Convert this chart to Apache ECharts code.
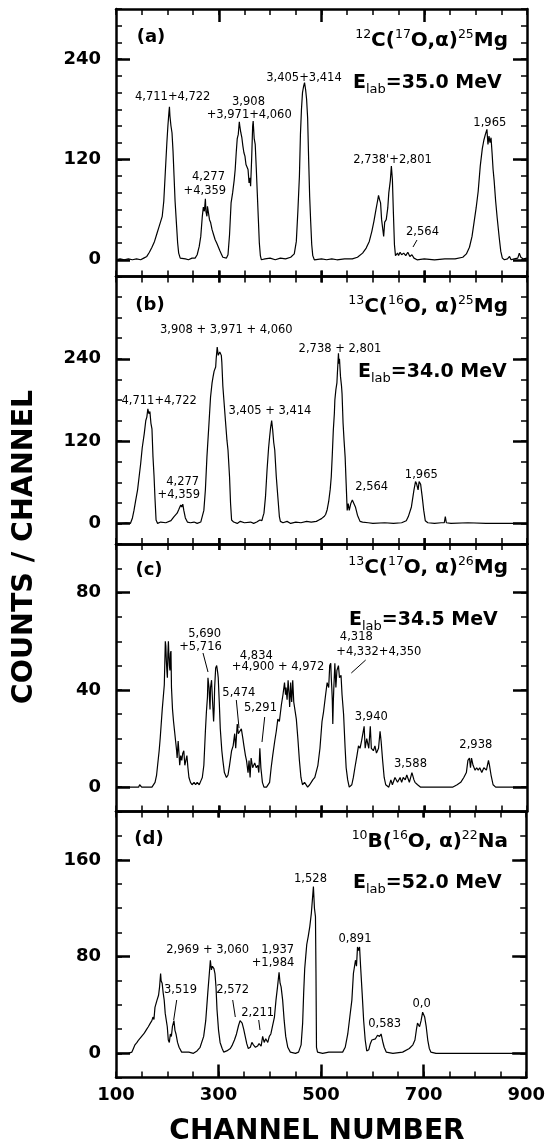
<!DOCTYPE html>
<html><head><meta charset="utf-8">
<script src="https://cdn.jsdelivr.net/npm/echarts@6/dist/echarts.min.js"></script>
<style>html,body{margin:0;padding:0;background:#fff;}#c{width:548px;height:1146px;}</style>
</head><body><div id="c"></div>
<script>
// ---- data: [channel, counts] ----
const specA = [[100,0],[108,1],[116,0],[124,1],[132,0],[140,1],[148,0],[154,2],[160,4],[165,9],[170,15],[175,22],[180,32],[184,40],[187,46],[190,52],[193,70],[196,105],[199,140],[201,160],[203,176],[204,183],[205,172],[207,160],[209,152],[211,130],[213,100],[215,70],[218,40],[220,20],[222,8],[225,2],[228,0],[235,1],[241,0],[248,2],[254,2],[258,6],[262,16],[265,28],[268,52],[270,63],[272,58],[274,73],[275,58],[277,52],[278,64],[280,62],[282,48],[284,45],[287,36],[290,30],[293,24],[296,20],[299,18],[302,11],[305,7],[308,3],[311,1],[315,2],[318,6],[321,30],[324,68],[327,80],[330,95],[332,108],[334,128],[336,145],[338,150],[340,165],[341,160],[343,152],[345,146],[347,136],[349,128],[351,124],[353,114],[355,112],[357,108],[359,92],[361,98],[362,88],[364,120],[366,160],[367,166],[369,145],[371,138],[373,110],[375,80],[377,50],[379,20],[381,5],[383,0],[390,1],[400,2],[410,0],[420,2],[430,1],[440,3],[447,7],[451,22],[454,58],[457,100],[459,150],[461,180],[463,200],[465,207],[467,212],[469,204],[471,192],[473,170],[475,120],[477,75],[479,45],[481,18],[483,5],[486,0],[500,1],[510,0],[520,1],[530,0],[545,1],[560,1],[570,3],[580,8],[587,14],[593,22],[598,34],[602,46],[606,60],[609,70],[611,77],[613,72],[615,68],[617,48],[619,38],[621,28],[623,45],[626,48],[629,62],[631,80],[634,95],[636,112],[638,96],[640,55],[642,18],[644,5],[646,3],[648,8],[650,5],[653,9],[656,6],[660,8],[664,5],[668,9],[672,4],[676,6],[680,2],[686,0],[700,1],[720,0],[740,1],[760,1],[775,3],[782,7],[788,15],[793,28],[797,45],[801,62],[805,82],[809,112],[813,133],[816,143],[819,150],[822,156],[824,138],[826,148],[828,140],[830,146],[832,128],[834,108],[836,95],[839,70],[842,50],[846,26],[849,10],[852,2],[856,0],[862,1],[866,4],[869,0],[875,1],[882,2],[885,8],[888,3],[893,1],[900,2]];

const specB = [[100,0],[110,0],[120,1],[128,0],[132,8],[135,19],[138,32],[142,49],[145,68],[148,87],[151,110],[155,131],[158,150],[160,155],[162,167],[164,160],[166,163],[168,146],[170,138],[172,97],[174,70],[176,35],[178,5],[181,0],[187,2],[197,1],[207,4],[213,10],[219,15],[222,20],[224,22],[226,27],[228,24],[230,28],[232,19],[235,8],[239,2],[245,1],[252,2],[258,0],[265,2],[271,19],[274,49],[277,97],[281,146],[284,184],[287,205],[289,214],[291,222],[294,228],[295,240],[297,257],[299,245],[300,243],[302,250],[303,252],[305,245],[306,235],[308,200],[310,180],[313,150],[316,121],[318,107],[321,68],[323,29],[325,5],[329,2],[336,0],[342,3],[350,1],[362,2],[368,0],[374,2],[380,5],[384,4],[386,10],[388,15],[391,39],[394,78],[397,110],[399,126],[401,140],[403,150],[405,136],[407,118],[409,107],[412,68],[415,39],[418,10],[420,3],[425,1],[433,3],[440,0],[450,2],[460,1],[471,3],[480,2],[490,3],[495,5],[500,7],[505,10],[508,13],[511,20],[514,32],[517,50],[519,68],[521,100],[523,136],[525,160],[526,180],[528,195],[530,205],[531,220],[533,248],[534,233],[535,240],[537,214],[539,200],[540,189],[542,146],[544,120],[546,97],[548,58],[550,19],[552,29],[554,19],[557,29],[560,34],[563,32],[566,24],[570,12],[575,3],[580,2],[591,1],[600,0],[623,1],[640,0],[656,1],[665,4],[669,10],[675,24],[680,49],[683,61],[685,58],[686,60],[688,49],[690,61],[693,57],[696,39],[699,19],[702,4],[707,1],[720,0],[733,1],[739,1],[741,10],[743,1],[752,0],[785,1],[820,0],[855,0],[900,0]];

const specC = [[100,0],[110,0],[120,0],[130,0],[140,0],[144,0],[146,1],[148,1],[150,0],[157,0],[165,0],[170,0],[176,2],[179,5],[181,9],[184,15],[186,20],[188,26],[190,32],[192,37],[194,42],[196,60],[197,58],[198,52],[199,48],[200,45],[201,55],[202,60],[203,54],[204,50],[205,48],[206,55],[207,56],[208,41],[210,32],[212,27],[214,23],[216,19],[218,15],[219,12],[221,19],[222,16],[224,9],[226,13],[228,11],[230,14],[232,15],[234,9],[236,11],[238,13],[240,8],[242,4],[245,2],[248,1],[252,2],[255,1],[258,2],[262,1],[266,3],[268,4],[271,9],[274,23],[276,31],[278,37],[279,45],[281,41],[283,32],[284,41],[286,44],[288,35],[290,27],[291,32],[292,41],[294,49],[296,50],[298,47],[299,45],[301,35],[303,24],[306,15],[308,11],[311,6],[315,4],[318,5],[321,9],[325,15],[328,17],[331,22],[333,16],[336,26],[338,22],[341,23],[344,24],[347,20],[349,17],[352,13],[354,11],[357,6],[359,11],[361,4],[363,12],[366,8],[370,10],[373,8],[376,9],[378,6],[380,16],[382,8],[385,2],[388,0],[393,0],[399,2],[402,8],[405,13],[409,19],[412,23],[415,28],[418,27],[422,34],[425,38],[428,43],[430,38],[431,41],[433,36],[435,44],[437,38],[438,33],[440,43],[441,38],[442,35],[444,44],[446,35],[448,35],[451,28],[454,20],[457,11],[460,4],[463,1],[467,2],[470,2],[473,0],[477,1],[480,2],[483,3],[487,4],[490,4],[493,9],[497,16],[501,27],[504,31],[508,38],[511,43],[514,41],[516,50],[518,51],[519,45],[520,41],[521,36],[522,26],[523,35],[524,41],[526,51],[528,41],[530,48],[533,50],[535,45],[538,46],[540,38],[543,30],[546,16],[548,8],[551,3],[554,0],[559,1],[562,4],[565,8],[569,13],[572,17],[575,16],[578,19],[581,19],[583,25],[585,16],[588,20],[592,16],[595,25],[597,16],[601,15],[604,17],[607,14],[611,16],[614,23],[616,19],[619,11],[622,4],[625,1],[631,0],[635,3],[638,1],[643,4],[648,2],[653,4],[656,2],[659,4],[663,3],[666,5],[671,2],[676,6],[680,3],[682,2],[687,1],[693,0],[710,0],[735,0],[755,0],[764,1],[771,2],[777,4],[782,6],[785,11],[788,12],[790,8],[792,12],[795,9],[799,7],[802,8],[805,7],[808,8],[812,6],[816,8],[821,7],[825,11],[827,9],[830,5],[834,1],[839,0],[852,0],[870,0],[885,0],[900,0]];

const specD = [[100,0],[110,0],[120,0],[124,0],[131,1],[134,4],[137,7],[141,9],[144,11],[147,12],[150,14],[154,16],[157,18],[160,20],[163,22],[167,25],[170,27],[172,30],[174,28],[176,38],[180,44],[183,48],[185,55],[187,66],[188,60],[190,58],[192,50],[194,44],[196,33],[198,32],[200,22],[202,11],[204,9],[206,16],[208,14],[210,22],[213,27],[215,19],[217,16],[220,9],[223,5],[228,1],[235,1],[242,1],[251,0],[258,2],[264,5],[271,14],[275,27],[279,50],[282,66],[284,77],[286,69],[288,72],[291,70],[293,66],[295,55],[297,36],[300,19],[303,9],[307,4],[310,1],[316,2],[323,4],[327,7],[331,11],[335,16],[339,23],[342,27],[346,25],[349,20],[352,14],[355,8],[358,4],[362,5],[365,9],[368,7],[372,5],[376,6],[379,8],[383,6],[386,14],[389,9],[392,12],[396,9],[399,14],[402,16],[405,22],[409,30],[412,44],[415,55],[418,67],[420,58],[422,55],[425,44],[428,27],[431,14],[435,5],[440,1],[450,0],[456,1],[461,7],[464,25],[466,50],[468,70],[470,80],[472,90],[475,97],[478,105],[481,116],[483,127],[485,138],[487,120],[489,113],[490,66],[491,5],[493,1],[503,0],[515,1],[529,1],[542,1],[547,5],[552,16],[556,30],[560,44],[563,66],[567,77],[569,72],[571,88],[573,85],[575,88],[577,72],[580,50],[583,27],[586,11],[589,2],[593,3],[596,8],[599,11],[602,10],[606,12],[610,15],[614,14],[617,16],[620,10],[623,5],[627,1],[640,0],[659,1],[672,4],[679,7],[683,11],[686,20],[688,25],[692,22],[695,27],[698,34],[700,33],[702,30],[705,22],[708,11],[711,4],[714,1],[724,0],[760,0],[790,0],[830,0],[860,0],[900,0]];

const spectra = [specA, specB, specC, specD];
const yMins = [-20, -30, -10, -20];
const yMaxs = [300, 360, 100, 200];
const ySteps = [20, 30, 10, 20];
const yLabelVals = [[0,120,240],[0,120,240],[0,40,80],[0,80,160]];
const xLabelVals = [100, 300, 500, 700, 900];
const xMajorTicks = [300, 500, 700];
const panelTags = ['(a)', '(b)', '(c)', '(d)'];

// ---- layout ----
const FONT = 'DejaVu Sans';
const tops = [9, 276.5, 544, 811.5];
const heights = [267.5, 267.5, 267.5, 266];
const LEFT = 116, WIDTH = 411;

const grids = [], xAxes = [], yAxes = [], series = [];
const lineW = 2.5;
for (let i = 0; i < 4; i++) {
  grids.push({left: LEFT, top: tops[i], width: WIDTH, height: heights[i], containLabel: false});
  const base = {gridIndex: i, type: 'value', min: 100, max: 900, splitLine: {show: false}};
  xAxes.push(Object.assign({}, base, {position: 'bottom', interval: 50,
    axisLine: {show: true, onZero: false, lineStyle: {color: '#000', width: lineW}},
    axisTick: {show: true, inside: true, length: 6, lineStyle: {color: '#000', width: 1.5}},
    axisLabel: {show: false}}));
  xAxes.push(Object.assign({}, base, {position: 'bottom', interval: 50,
    axisLine: {show: false, onZero: false},
    axisTick: {show: true, inside: true, length: i === 3 ? 13 : 6, customValues: xMajorTicks, lineStyle: {color: '#000', width: 2.5}},
    axisLabel: {show: i === 3, customValues: xLabelVals, margin: 9, color: '#000', fontFamily: FONT, fontWeight: 'bold', fontSize: 18}}));
  xAxes.push(Object.assign({}, base, {position: 'top', interval: 50,
    axisLine: {show: true, onZero: false, lineStyle: {color: '#000', width: lineW}},
    axisTick: {show: true, inside: true, length: 6, lineStyle: {color: '#000', width: 1.5}},
    axisLabel: {show: false}}));
  xAxes.push(Object.assign({}, base, {position: 'top', interval: 50,
    axisLine: {show: false, onZero: false},
    axisTick: {show: true, inside: true, length: i === 0 ? 13 : 6, customValues: xMajorTicks, lineStyle: {color: '#000', width: 2.5}},
    axisLabel: {show: false}}));

  const yb = {gridIndex: i, type: 'value', min: yMins[i], max: yMaxs[i], interval: ySteps[i], splitLine: {show: false}};
  ['left', 'right'].forEach(function (pos) {
    yAxes.push(Object.assign({}, yb, {position: pos,
      axisLine: {show: true, onZero: false, lineStyle: {color: '#000', width: lineW}},
      axisTick: {show: true, inside: true, length: 6, lineStyle: {color: '#000', width: 1.5}},
      axisLabel: {show: false}}));
    yAxes.push(Object.assign({}, yb, {position: pos,
      axisLine: {show: false, onZero: false},
      axisTick: {show: true, inside: true, length: 14, customValues: yLabelVals[i], lineStyle: {color: '#000', width: 2.5}},
      axisLabel: {show: pos === 'left', customValues: yLabelVals[i], margin: 15, color: '#000', fontFamily: FONT, fontWeight: 'bold', fontSize: 18}}));
  });

  series.push({type: 'line', xAxisIndex: i * 4, yAxisIndex: i * 4, data: spectra[i],
    showSymbol: false, symbol: 'none', clip: true,
    lineStyle: {color: '#000', width: 1.2}, silent: true});
}

// ---- annotations ----
const G = [];
function t(x, y, text, size, weight, align) {
  G.push({type: 'text', x: x, y: y, silent: true, style: {text: text, fill: '#000',
    fontFamily: FONT, fontSize: size || 11.5, fontWeight: weight || 'normal',
    align: align || 'center', textAlign: align || 'center', verticalAlign: 'middle', textVerticalAlign: 'middle'}});
}
function ln(x1, y1, x2, y2) {
  G.push({type: 'line', silent: true, shape: {x1: x1, y1: y1, x2: x2, y2: y2}, style: {stroke: '#000', lineWidth: 1}});
}
function rich(x, y, text, align) {
  G.push({type: 'text', x: x, y: y, silent: true, style: {text: text, fill: '#000',
    align: align, textAlign: align, verticalAlign: 'middle', textVerticalAlign: 'middle',
    rich: {
      m: {fontFamily: FONT, fontSize: 20, fontWeight: 'bold', lineHeight: 26, fill: '#000'},
      e: {fontFamily: FONT, fontSize: 19, fontWeight: 'bold', lineHeight: 26, fill: '#000'},
      s: {fontFamily: FONT, fontSize: 12.5, fontWeight: 'normal', lineHeight: 20, verticalAlign: 'top', fill: '#000'},
      b: {fontFamily: FONT, fontSize: 13, fontWeight: 'normal', lineHeight: 8, verticalAlign: 'bottom', fill: '#000'}
    }}});
}

const tagPos = [[151, 37], [150, 305], [149, 570], [149, 839]];
panelTags.forEach(function (s, i) { t(tagPos[i][0], tagPos[i][1], s, 18, 'bold'); });

const reactions = [
  '{s|12}{m|C(}{s|17}{m|O,α)}{s|25}{m|Mg}',
  '{s|13}{m|C(}{s|16}{m|O, α)}{s|25}{m|Mg}',
  '{s|13}{m|C(}{s|17}{m|O, α)}{s|26}{m|Mg}',
  '{s|10}{m|B(}{s|16}{m|O, α)}{s|22}{m|Na}'
];
const reactY = [41, 307, 568, 842];
reactions.forEach(function (s, i) { rich(508, reactY[i], s, 'right'); });

const energies = ['35.0', '34.0', '34.5', '52.0'];
const eX = [353, 358, 349, 353];
const eY = [83, 372, 620, 883];
energies.forEach(function (e, i) { rich(eX[i], eY[i], '{e|E}{b|lab}{e|=' + e + ' MeV}', 'left'); });

// panel (a)
t(172.7, 97.5, '4,711+4,722');
t(248.5, 101.7, '3,908');
t(249.2, 115, '+3,971+4,060');
t(208.5, 177, '4,277');
t(204.8, 191, '+4,359');
t(304, 78, '3,405+3,414');
t(392.5, 160, "2,738'+2,801");
t(422.5, 231.7, '2,564'); ln(413, 247, 417, 240);
t(489.8, 123, '1,965');
// panel (b)
t(226.3, 330, '3,908 + 3,971 + 4,060');
t(340, 349, '2,738 + 2,801');
t(159.2, 401, '4,711+4,722');
t(270, 411, '3,405 + 3,414');
t(182.7, 481.7, '4,277');
t(178.8, 495, '+4,359');
t(371.7, 486.7, '2,564');
t(421.3, 474.7, '1,965');
// panel (c)
t(204.7, 634, '5,690');
t(200.5, 646.7, '+5,716'); ln(203, 653, 208, 672);
t(256.3, 656, '4,834');
t(278, 667.5, '+4,900 + 4,972');
t(238.8, 693, '5,474'); ln(236.3, 700, 239, 728);
t(260.5, 708, '5,291'); ln(264.7, 717, 262, 742);
t(356.3, 637.5, '4,318');
t(378.8, 651.7, '+4,332+4,350'); ln(365.7, 660, 351.3, 673);
t(371.3, 716.7, '3,940');
t(410.5, 764, '3,588');
t(475.8, 745, '2,938');
// panel (d)
t(310.5, 879, '1,528');
t(355, 939, '0,891');
t(384.7, 1024, '0,583');
t(421.7, 1004, '0,0');
t(207.7, 950, '2,969 + 3,060');
t(277.7, 950, '1,937');
t(273, 963.3, '+1,984');
t(180.5, 990, '3,519'); ln(176.7, 1000, 173.7, 1020);
t(232.7, 990, '2,572'); ln(232.7, 1000, 235.3, 1017);
t(257.7, 1013.3, '2,211'); ln(258.7, 1020, 260, 1030);

// axis titles
G.push({type: 'text', x: 24.5, y: 547, rotation: Math.PI / 2, silent: true,
  style: {text: 'COUNTS / CHANNEL', fill: '#000', fontFamily: FONT, fontSize: 28.5, fontWeight: 'bold',
    align: 'center', textAlign: 'center', verticalAlign: 'middle', textVerticalAlign: 'middle'}});
G.push({type: 'text', x: 317, y: 1132, silent: true,
  style: {text: 'CHANNEL NUMBER', fill: '#000', fontFamily: FONT, fontSize: 28, fontWeight: 'bold',
    align: 'center', textAlign: 'center', verticalAlign: 'middle', textVerticalAlign: 'middle'}});

const chart = echarts.init(document.getElementById('c'), null, {renderer: 'canvas'});
chart.setOption({
  animation: false,
  backgroundColor: '#fff',
  grid: grids,
  xAxis: xAxes,
  yAxis: yAxes,
  series: series,
  graphic: {elements: G}
});
</script>
</body></html>
